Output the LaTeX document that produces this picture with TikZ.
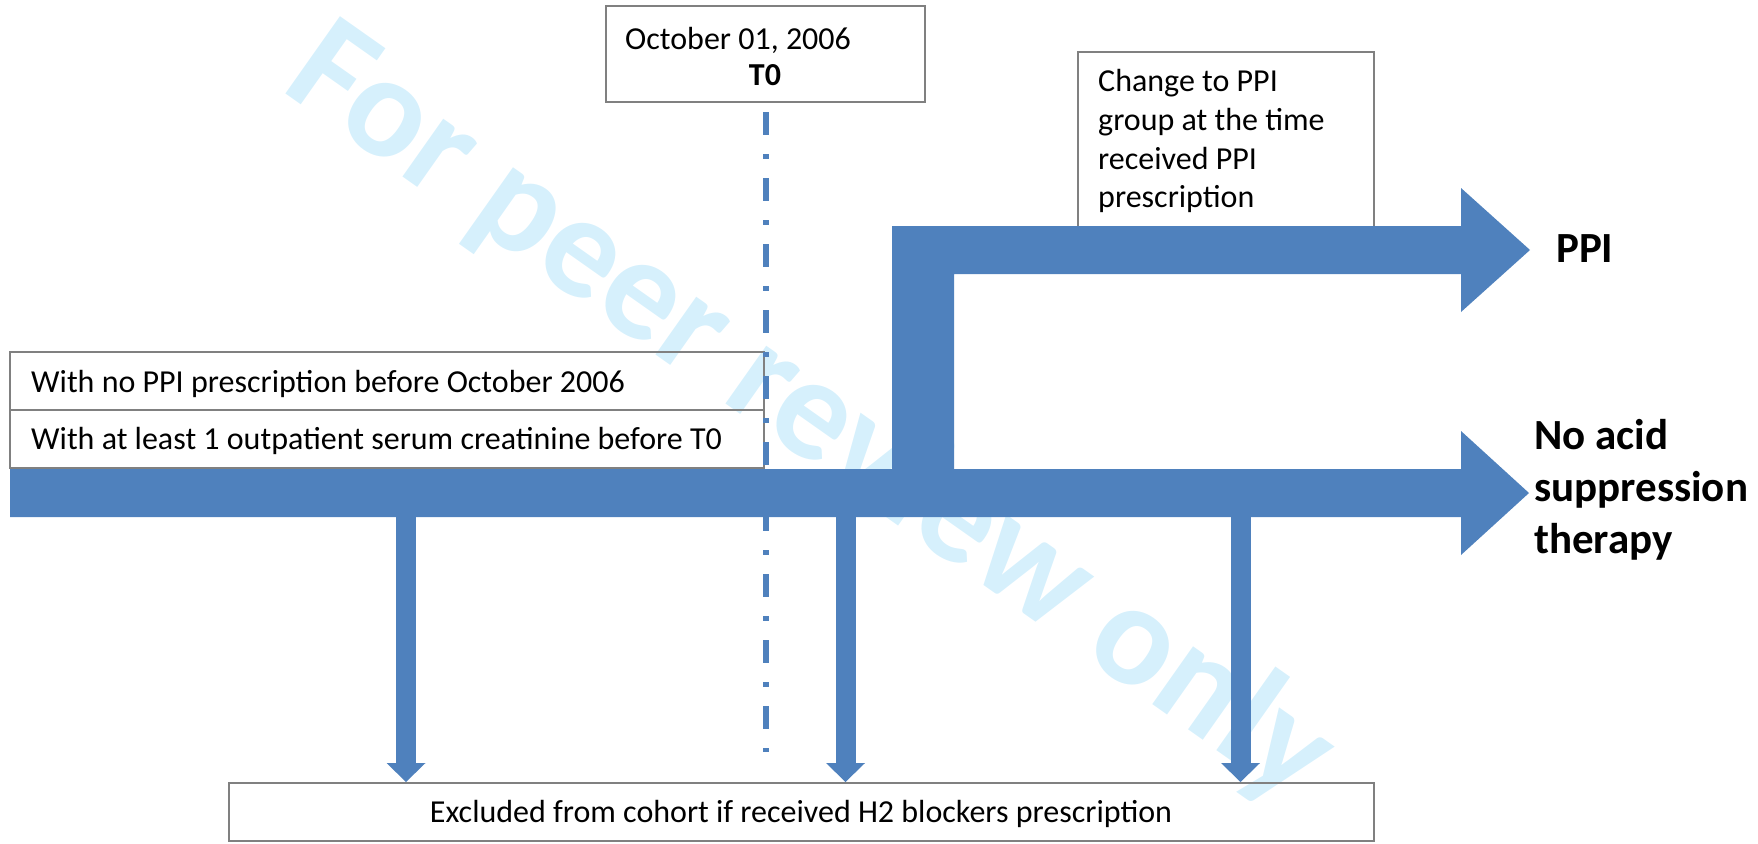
\documentclass[tikz,border=0pt]{standalone}
\usepackage{fontspec}
\setmainfont{Carlito}
\usetikzlibrary{arrows.meta}
\definecolor{flowblue}{RGB}{79,129,189}
\definecolor{framegray}{RGB}{128,128,128}
\definecolor{markblue}{RGB}{214,240,252}
\tikzset{
  panel/.style={draw=framegray, line width=2pt, inner sep=0pt},
  txt/.style={font=\fontsize{32}{38.4}\selectfont, inner sep=0pt, anchor=base west},
  label/.style={font=\fontsize{43}{52}\selectfont\bfseries, inner sep=0pt, anchor=base west},
  blockarrow/.style={fill=flowblue, draw=none},
  drop/.style={draw=flowblue, line width=20pt,
    -{Triangle[width=39pt,length=19pt,line width=0pt]}},
  timeline/.style={draw=flowblue, line width=6pt,
    dash pattern=on 23pt off 19pt on 5pt off 19pt}
}
\begin{document}
\begin{tikzpicture}[x=1pt, y=-1pt]
\useasboundingbox (0,0) rectangle (1758,843);

% watermark behind everything
\node[text=markblue, font=\fontsize{146}{175}\selectfont\bfseries,
      inner sep=0pt, anchor=base west, rotate=-35.2] (wm) at (279,89)
  {For peer review only};

% boxes
\node[panel, minimum width=319pt, minimum height=96pt] (t0box) at (765.5,54) {};
\node[panel, minimum width=296pt, minimum height=184pt] (ppibox) at (1226,144) {};
\node[panel, minimum width=754pt, minimum height=58pt] (crit1) at (387,381) {};
\node[panel, minimum width=754pt, minimum height=58pt] (crit2) at (387,439) {};
\node[panel, minimum width=1145pt, minimum height=58pt] (excl) at (801.5,812) {};

% box texts
\node[txt] (t0date) at (625,49) {October 01, 2006};
\node[txt, anchor=base, font=\fontsize{32}{38.4}\selectfont\bfseries] (t0name) at (765,85) {T0};
\node[txt] (ppi1) at (1098,92) {Change to PPI};
\node[txt] (ppi2) at (1098,130) {group at the time};
\node[txt] (ppi3) at (1098,169) {received PPI};
\node[txt] (ppi4) at (1098,207) {prescription};
\node[txt] (crit1t) at (31,392) {With no PPI prescription before October 2006};
\node[txt] (crit2t) at (31,449) {With at least 1 outpatient serum creatinine before T0};
\node[txt, anchor=base] (exclt) at (801,822) {Excluded from cohort if received H2 blockers prescription};

% outcome labels
\node[label] (ppilab) at (1556,262) {PPI};
\node[label] (noacid1) at (1534,449) {No acid};
\node[label] (noacid2) at (1534,501) {suppression};
\node[label] (noacid3) at (1534,553) {therapy};

% main cohort arrow
\fill[blockarrow] (10,469) -- (1461,469) -- (1461,431) -- (1529,493)
  -- (1461,555) -- (1461,517) -- (10,517) -- cycle;

% branch to the PPI group
\fill[blockarrow] (892,470) -- (892,226) -- (1461,226) -- (1461,188) -- (1530,250)
  -- (1461,312) -- (1461,274) -- (954,274) -- (954,470) -- cycle;

% exclusion arrows
\coordinate (d1) at (406,512);
\coordinate (d2) at (845.5,512);
\coordinate (d3) at (1240.5,512);
\draw[drop] (d1) -- (d1 |- excl.north);
\draw[drop] (d2) -- (d2 |- excl.north);
\draw[drop] (d3) -- (d3 |- excl.north);

% index date line
\coordinate (tstart) at (766,112);
\coordinate (tend) at (766,752);
\draw[timeline] (tstart) -- (tend);
\end{tikzpicture}
\end{document}
